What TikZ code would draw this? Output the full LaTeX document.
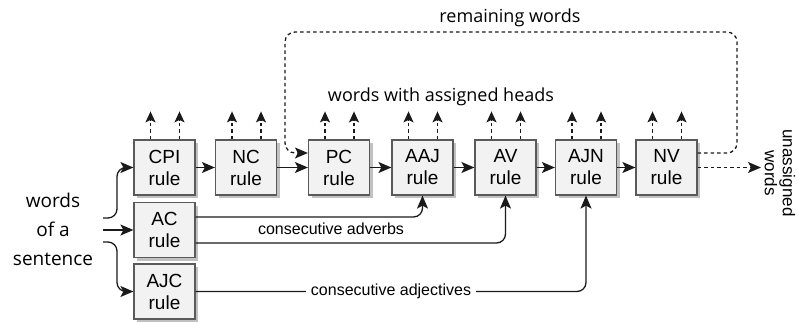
\documentclass[tikz,border=0pt]{standalone}
\usepackage{fontspec}
\setmainfont{Liberation Sans}
\newfontfamily\opsans{Open Sans}
\usetikzlibrary{arrows.meta,shadows}
\definecolor{boxfill}{HTML}{F2F2F2}
\definecolor{boxline}{HTML}{5A5A5A}
\definecolor{linec}{HTML}{1A1A1A}
\tikzset{
 rulebox/.style={draw=boxline, line width=1.2pt, fill=boxfill, minimum width=61pt, minimum height=55pt, inner sep=0pt, align=center, font=\fontsize{19}{22}\selectfont, drop shadow={shadow xshift=3pt, shadow yshift=-3pt, fill=gray!70, opacity=0.7}},
 conn/.style={draw=linec, line width=1.3pt, -{Stealth[length=13pt,width=11pt,inset=3pt]}},
 dconn/.style={conn, dash pattern=on 3.5pt off 3pt},
 upconn/.style={draw=linec, line width=1.3pt, dash pattern=on 3.5pt off 3pt, -{Stealth[length=11pt,width=10pt,inset=2.5pt]}},
 lbl/.style={font=\opsans\fontsize{18}{22}\selectfont, inner sep=0pt},
 smalllbl/.style={font=\fontsize{16}{18}\selectfont, inner sep=2pt},
}
\begin{document}
\begin{tikzpicture}[x=1pt,y=-1pt]
\useasboundingbox (0,0) rectangle (797,322);
% main chain
\node[rulebox] (CPI) at (164.5,167.5) {CPI\\rule};
\node[rulebox] (NC)  at (246,167.5)   {NC\\rule};
\node[rulebox] (PC)  at (339,167.5)   {PC\\rule};
\node[rulebox] (AAJ) at (422.5,167.5) {AAJ\\rule};
\node[rulebox] (AV)  at (505.5,167.5) {AV\\rule};
\node[rulebox] (AJN) at (586,167.5)   {AJN\\rule};
\node[rulebox] (NV)  at (666.5,167.5) {NV\\rule};
\node[rulebox] (AC)  at (164.5,230)   {AC\\rule};
\node[rulebox] (AJC) at (164.5,291.5) {AJC\\rule};
% input
\node[font=\opsans\fontsize{19}{29}\selectfont, align=center, inner sep=0pt] (sent) at (53,229) {words\\of a\\sentence};
\coordinate (s1) at (103,218);
\coordinate (s2) at (103,230);
\coordinate (s3) at (103,242);
\draw[conn, rounded corners=9pt] (s1) -| (117,167.5) -- (CPI.west);
\draw[conn] (s2) -- (AC.west);
\draw[conn, rounded corners=9pt] (s3) -| (117,291.5) -- (AJC.west);
% chain arrows
\draw[conn] (CPI) -- (NC);
\draw[conn] (NC) -- (PC);
\draw[conn] (PC) -- (AAJ);
\draw[conn] (AAJ) -- (AV);
\draw[conn] (AV) -- (AJN);
\draw[conn] (AJN) -- (NV);
% up arrows
\foreach \b in {CPI,NC,PC,AAJ,AV,AJN,NV}{
  \coordinate (\b u1) at ([xshift=-14pt,yshift=28pt]\b.north);
  \coordinate (\b u2) at ([xshift=15pt,yshift=28pt]\b.north);
  \draw[upconn] ([xshift=-14pt]\b.north) -- (\b u1);
  \draw[upconn] ([xshift=15pt]\b.north) -- (\b u2);
}
\node[lbl] (heads) at (441,97) {words with assigned heads};
% remaining words loop
\coordinate (loopR) at (737,32);
\coordinate (loopL) at (285,32);
\draw[dconn, rounded corners=10pt] ([yshift=14.5pt]NV.east) -| (loopR) -- (loopL) |- ([yshift=14.5pt]PC.west);
\node[lbl] (remain) at (510,18) {remaining words};
% unassigned
\coordinate (unas) at (761,167.5);
\draw[dconn] (NV.east) -- (unas);
\node[font=\fontsize{17}{18}\selectfont, align=center, rotate=-90, inner sep=0pt] (unaslbl) at (780,173) {unassigned\\words};
% consecutive adverbs
\draw[conn, rounded corners=9pt] ([yshift=13pt]AC.east) -| (AAJ.south);
\draw[conn, rounded corners=9pt] ([yshift=-13pt]AC.east) -| (AV.south);
\node[smalllbl] (adv) at (331,229) {consecutive adverbs};
% consecutive adjectives
\draw[conn, rounded corners=9pt] (AJC.east) -| (AJN.south);
\node[smalllbl, fill=white, inner xsep=5pt] (adj) at (391,291.5) {consecutive adjectives};
\end{tikzpicture}
\end{document}
